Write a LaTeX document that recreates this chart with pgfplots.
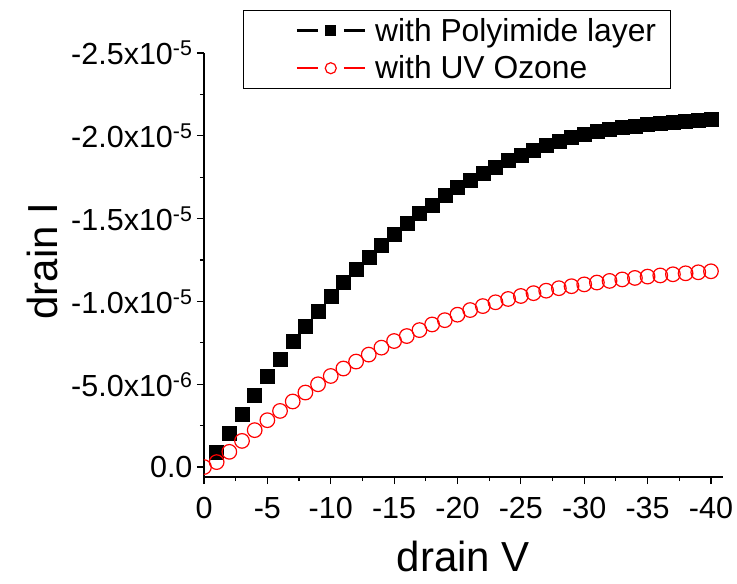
\documentclass[border=0pt]{standalone}
\usepackage{fontspec}
\setmainfont{Liberation Sans}
\usepackage{pgfplots}
\pgfplotsset{compat=1.18}
\begin{document}
\begin{tikzpicture}
\begin{axis}[
  scale only axis, width=519pt, height=424pt,
  x dir=reverse, y dir=reverse,
  xmin=-40.95, xmax=0, ymin=-2.5e-5, ymax=6e-7,
  scaled y ticks=false, scaled x ticks=false,
  axis lines=left, axis line style={-, line width=1.4pt},
  clip marker paths=true,
  tick align=outside, major tick length=7pt, minor tick length=4pt,
  every tick/.style={black, line width=1.2pt},
  xtick={0,-5,-10,-15,-20,-25,-30,-35,-40},
  xticklabels={0,-5,-10,-15,-20,-25,-30,-35,-40},
  minor x tick num=1,
  ytick={-2.5e-5,-2e-5,-1.5e-5,-1e-5,-5e-6,0},
  yticklabels={{-2.5x10\textsuperscript{-5}},{-2.0x10\textsuperscript{-5}},{-1.5x10\textsuperscript{-5}},{-1.0x10\textsuperscript{-5}},{-5.0x10\textsuperscript{-6}},{0.0}},
  minor y tick num=1,
  tick label style={font=\fontsize{30.5}{36}\selectfont},
  yticklabel style={xshift=-1pt},
  xticklabel style={yshift=-10pt},
  xlabel={drain V}, ylabel={drain I},
  label style={font=\fontsize{42}{48}\selectfont},
  xlabel style={at={(axis description cs:0.5,0)}, anchor=center, yshift=-79pt},
  ylabel style={at={(axis description cs:0,0.5)}, anchor=center, yshift=161pt, xshift=4pt},
  legend style={at={(axis description cs:0.0751,1.1014)}, anchor=north west,
    draw=black, line width=0.8pt, font=\fontsize{31.8}{37}\selectfont,
    inner xsep=12pt, inner ysep=6pt, row sep=9pt, cells={anchor=west}},
  legend cell align=left,
]
\addplot[only marks, mark=square*, mark size=7pt, color=black,
  legend image code/.code={%
    \path (-41pt,0pt);
    \draw[black, line width=2.5pt] (0pt,0pt) -- (21pt,0pt);
    \draw[black, line width=2.5pt] (47pt,0pt) -- (68pt,0pt);
    \fill[black] (29pt,-5pt) rectangle (39pt,5pt);
    \path (76pt,0pt);
  }] coordinates {
(-1,-0.89e-6) (-2,-2.03e-6) (-3,-3.19e-6) (-4,-4.34e-6) (-5,-5.46e-6)
(-6,-6.52e-6) (-7,-7.57e-6) (-8,-8.51e-6) (-9,-9.42e-6) (-10,-10.32e-6)
(-11,-11.16e-6) (-12,-11.93e-6) (-13,-12.69e-6) (-14,-13.42e-6) (-15,-14.08e-6)
(-16,-14.74e-6) (-17,-15.30e-6) (-18,-15.84e-6) (-19,-16.39e-6) (-20,-16.87e-6)
(-21,-17.35e-6) (-22,-17.75e-6) (-23,-18.1e-6) (-24,-18.5e-6) (-25,-18.85e-6)
(-26,-19.15e-6) (-27,-19.42e-6) (-28,-19.67e-6) (-29,-19.9e-6) (-30,-20.1e-6)
(-31,-20.25e-6) (-32,-20.38e-6) (-33,-20.5e-6) (-34,-20.6e-6) (-35,-20.68e-6)
(-36,-20.76e-6) (-37,-20.83e-6) (-38,-20.9e-6) (-39,-20.96e-6) (-40,-21.02e-6)
};
\addlegendentry{with Polyimide layer}
\addplot[only marks, mark=o, mark size=7.3pt, color=red, mark options={line width=1.2pt},
  legend image code/.code={%
    \path (-41pt,0pt);
    \draw[red, line width=2.5pt] (0pt,0pt) -- (21pt,0pt);
    \draw[red, line width=2.5pt] (47pt,0pt) -- (68pt,0pt);
    \draw[red, line width=1.2pt] (34pt,0pt) circle (5.5pt);
    \path (76pt,0pt);
  }] coordinates {
(0,0) (-1,-0.3e-6) (-2,-0.92e-6) (-3,-1.58e-6) (-4,-2.23e-6) (-5,-2.83e-6)
(-6,-3.39e-6) (-7,-3.96e-6) (-8,-4.5e-6) (-9,-5.0e-6) (-10,-5.5e-6)
(-11,-5.95e-6) (-12,-6.37e-6) (-13,-6.79e-6) (-14,-7.21e-6) (-15,-7.61e-6)
(-16,-7.91e-6) (-17,-8.27e-6) (-18,-8.61e-6) (-19,-8.87e-6) (-20,-9.2e-6)
(-21,-9.48e-6) (-22,-9.72e-6) (-23,-9.95e-6) (-24,-10.15e-6) (-25,-10.33e-6)
(-26,-10.5e-6) (-27,-10.65e-6) (-28,-10.8e-6) (-29,-10.92e-6) (-30,-11.03e-6)
(-31,-11.14e-6) (-32,-11.24e-6) (-33,-11.33e-6) (-34,-11.42e-6) (-35,-11.5e-6)
(-36,-11.57e-6) (-37,-11.64e-6) (-38,-11.7e-6) (-39,-11.76e-6) (-40,-11.82e-6)
};
\addlegendentry{with UV Ozone}
\end{axis}
\pgfresetboundingbox
\path (current axis.south west) ++(-204pt,-107pt) rectangle ++(737pt,584pt);
\end{tikzpicture}
\end{document}
